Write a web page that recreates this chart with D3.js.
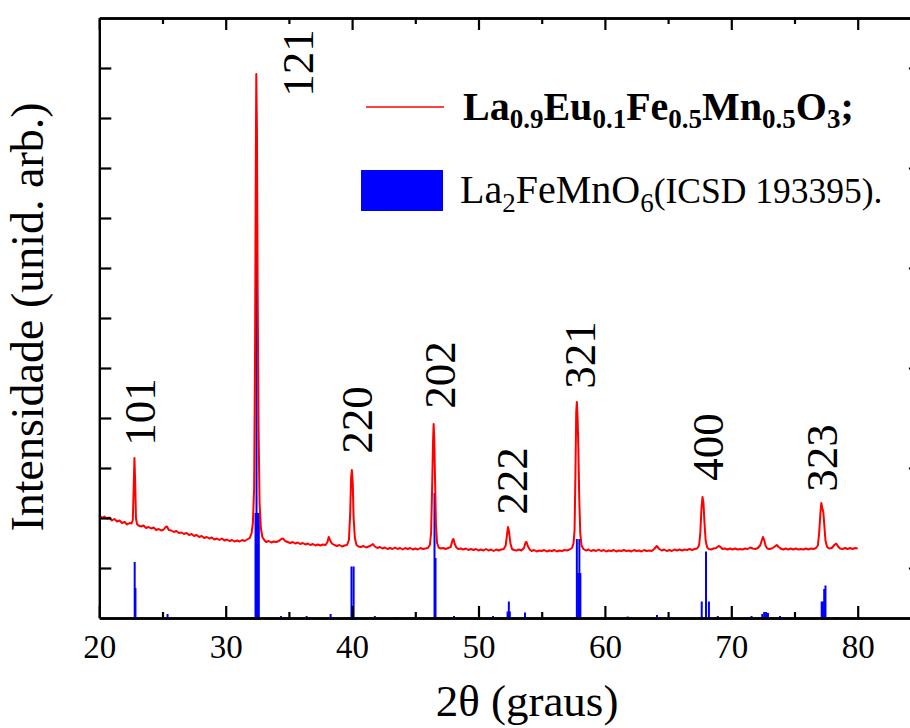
<!DOCTYPE html>
<html>
<head>
<meta charset="utf-8">
<script src="https://cdn.jsdelivr.net/npm/d3@7"></script>
<style>
  html, body { margin: 0; padding: 0; background: #fff; }
  svg { display: block; }
  text { font-family: "Liberation Serif", "Times New Roman", serif; }
</style>
</head>
<body>
<svg id="chart" width="910" height="728"></svg>
<script>
// ---------- data ----------
// Measured pattern La0.9Eu0.1Fe0.5Mn0.5O3 : [2theta, intensity a.u.]
const sampleScan = [
[20.0,2060],[20.2,2000],[20.4,2030],[20.6,1990],[20.8,2010],[21.0,1950],[21.2,1980],[21.4,1930],[21.6,1950],[21.8,1900],
[22.0,1920],[22.2,1870],[22.4,1900],[22.55,1890],[22.65,1960],[22.72,2600],[22.78,3200],[22.84,2700],[22.9,2000],[22.98,1880],
[23.1,1850],[23.3,1830],[23.5,1850],[23.7,1800],[23.9,1820],[24.1,1790],[24.3,1810],[24.5,1760],[24.7,1780],[24.9,1750],
[25.1,1770],[25.25,1820],[25.35,1830],[25.5,1760],[25.7,1750],[25.9,1720],[26.1,1740],[26.3,1700],[26.5,1710],[26.7,1680],
[26.9,1700],[27.1,1660],[27.3,1680],[27.5,1640],[27.7,1660],[27.9,1620],[28.1,1640],[28.3,1600],[28.5,1620],[28.7,1590],
[28.9,1610],[29.1,1570],[29.3,1590],[29.5,1560],[29.7,1590],[29.9,1550],[30.1,1570],[30.3,1540],[30.5,1560],[30.7,1530],
[30.9,1550],[31.1,1530],[31.3,1560],[31.5,1540],[31.7,1570],[31.9,1600],[32.05,1700],[32.15,1900],[32.25,2600],[32.32,5200],
[32.38,9000],[32.42,10880],[32.47,9800],[32.53,6500],[32.6,3800],[32.68,2300],[32.78,1800],[32.9,1620],[33.05,1560],[33.2,1520],
[33.4,1540],[33.6,1510],[33.8,1530],[34.0,1520],[34.2,1540],[34.4,1580],[34.55,1590],[34.7,1540],[34.9,1520],[35.1,1500],
[35.3,1520],[35.5,1490],[35.7,1510],[35.9,1480],[36.1,1500],[36.3,1470],[36.5,1490],[36.7,1460],[36.9,1480],[37.1,1450],
[37.3,1470],[37.5,1450],[37.7,1470],[37.9,1460],[38.05,1520],[38.15,1620],[38.25,1560],[38.4,1490],[38.6,1460],[38.8,1440],
[39.0,1460],[39.2,1430],[39.4,1450],[39.6,1460],[39.75,1560],[39.85,2100],[39.92,2800],[39.98,2960],[40.05,2700],[40.12,2000],
[40.22,1600],[40.35,1460],[40.5,1430],[40.7,1420],[40.9,1440],[41.1,1410],[41.3,1430],[41.5,1450],[41.65,1480],[41.8,1430],
[42.0,1400],[42.2,1420],[42.4,1390],[42.6,1410],[42.8,1380],[43.0,1400],[43.2,1380],[43.4,1410],[43.6,1380],[43.8,1400],
[44.0,1370],[44.2,1400],[44.4,1380],[44.6,1400],[44.8,1370],[45.0,1390],[45.2,1370],[45.4,1400],[45.6,1380],[45.8,1390],
[46.0,1400],[46.15,1460],[46.25,1700],[46.33,2600],[46.4,3500],[46.45,3880],[46.5,3600],[46.56,2800],[46.63,1900],[46.72,1500],
[46.85,1410],[47.0,1390],[47.2,1400],[47.4,1380],[47.6,1400],[47.8,1420],[47.95,1560],[48.02,1580],[48.12,1480],[48.25,1410],
[48.4,1380],[48.6,1390],[48.8,1370],[49.0,1390],[49.2,1360],[49.4,1380],[49.6,1360],[49.8,1380],[50.0,1350],[50.2,1370],
[50.4,1350],[50.6,1380],[50.8,1350],[51.0,1370],[51.2,1340],[51.4,1370],[51.6,1350],[51.8,1370],[52.0,1380],[52.15,1450],
[52.25,1650],[52.33,1820],[52.42,1720],[52.52,1500],[52.65,1380],[52.8,1360],[53.0,1350],[53.2,1370],[53.4,1350],[53.6,1400],
[53.72,1510],[53.8,1520],[53.9,1440],[54.05,1370],[54.2,1340],[54.4,1360],[54.6,1330],[54.8,1350],[55.0,1340],[55.2,1360],
[55.4,1330],[55.6,1350],[55.8,1340],[56.0,1360],[56.2,1330],[56.4,1350],[56.6,1340],[56.8,1360],[57.0,1350],[57.2,1370],
[57.4,1400],[57.52,1500],[57.6,1750],[57.67,2900],[57.73,4100],[57.78,4320],[57.84,4000],[57.9,3400],[57.97,2400],[58.05,1700],
[58.15,1450],[58.3,1380],[58.5,1350],[58.7,1370],[58.9,1340],[59.1,1360],[59.3,1340],[59.5,1370],[59.7,1340],[59.9,1360],
[60.1,1330],[60.3,1350],[60.5,1340],[60.7,1360],[60.9,1330],[61.1,1350],[61.3,1340],[61.5,1360],[61.7,1340],[61.9,1350],
[62.1,1330],[62.3,1360],[62.5,1340],[62.7,1350],[62.9,1330],[63.1,1360],[63.3,1340],[63.5,1350],[63.7,1340],[63.9,1380],
[64.1,1440],[64.3,1380],[64.5,1350],[64.7,1370],[64.9,1340],[65.1,1360],[65.3,1340],[65.5,1370],[65.7,1350],[65.9,1370],
[66.1,1350],[66.3,1370],[66.5,1360],[66.7,1380],[66.9,1360],[67.1,1380],[67.3,1390],[67.45,1450],[67.55,1700],[67.63,2150],
[67.72,2420],[67.8,2300],[67.88,1900],[67.97,1550],[68.08,1420],[68.2,1380],[68.4,1370],[68.6,1390],[68.8,1400],[69.0,1440],
[69.15,1420],[69.3,1380],[69.5,1390],[69.7,1370],[69.9,1390],[70.1,1370],[70.3,1390],[70.5,1370],[70.7,1380],[70.9,1370],
[71.1,1390],[71.3,1380],[71.5,1410],[71.7,1390],[71.9,1380],[72.1,1400],[72.3,1460],[72.42,1560],[72.5,1620],[72.6,1560],
[72.72,1440],[72.85,1390],[73.0,1380],[73.2,1390],[73.4,1420],[73.6,1460],[73.75,1420],[73.9,1390],[74.1,1370],[74.3,1390],
[74.5,1370],[74.7,1390],[74.9,1370],[75.1,1390],[75.3,1370],[75.5,1380],[75.7,1370],[75.9,1390],[76.1,1370],[76.3,1390],
[76.5,1380],[76.7,1400],[76.85,1450],[76.95,1700],[77.05,2100],[77.12,2300],[77.2,2200],[77.28,2120],[77.36,1850],[77.45,1550],
[77.58,1420],[77.75,1390],[77.95,1400],[78.15,1460],[78.3,1490],[78.45,1430],[78.6,1390],[78.8,1380],[79.0,1400],[79.2,1380],
[79.4,1400],[79.6,1380],[79.8,1400],[80.0,1390]
];

// Reference pattern La2FeMnO6 (ICSD 193395): stick positions and heights
const refTwoTheta = [22.80, 22.86, 25.40, 32.36, 32.44, 32.52, 32.62, 34.38, 36.40, 38.30,
                     39.95, 40.12, 41.80, 43.40, 46.52, 46.60, 48.06, 51.15, 52.30, 52.40,
                     52.48, 53.68, 57.78, 57.88, 57.98, 58.06, 61.80, 64.12, 67.66, 68.00,
                     68.23, 68.93, 71.60, 72.45, 72.60, 72.75, 72.90, 73.85, 77.15, 77.25,
                     77.35, 77.45, 78.30];
const refIntensity = [1120, 600, 80, 2100, 8120, 2100, 2100, 40, 40, 80,
                      1030, 1030, 40, 20, 2500, 1200, 40, 40, 130, 330,
                      130, 110, 1580, 900, 1580, 900, 30, 60, 330, 1330,
                      330, 40, 40, 80, 120, 120, 100, 40, 330, 330,
                      580, 650, 20];

// Miller index annotations: text and anchor (2theta, intensity)
const hklText = ["101", "121", "220", "202", "222", "321", "400", "323"];
const hklTwoTheta = [24.41, 36.91, 41.58, 48.14, 53.84, 59.22, 69.34, 78.36];
const hklLevel = [4120, 11100, 3960, 4860, 2740, 5260, 3420, 3200];

const xMajorTicks = [20, 30, 40, 50, 60, 70, 80];
const xMinorTicks = [25, 35, 45, 55, 65, 75, 85];
const yMajorTicks = [1000, 3000, 5000, 7000, 9000, 11000];
const yMinorTicks = [2000, 4000, 6000, 8000, 10000];

const xTitle = "2θ (graus)";
const yTitle = "Intensidade (unid. arb.)";

// ---------- layout ----------
const svg = d3.select("#chart");
const L = 99.3, R = 920.9, T = 18, B = 618;
const x = d3.scaleLinear().domain([20, 85]).range([L, R]);
const y = d3.scaleLinear().domain([0, 12000]).range([B, T]);

const RED = "#ff0000", BLUE = "#0000ff";

// reference sticks
svg.append("g").selectAll("line").data(refTwoTheta).join("line")
  .attr("x1", d => x(d)).attr("x2", d => x(d))
  .attr("y1", y(0)).attr("y2", (d, i) => y(refIntensity[i]))
  .attr("stroke", BLUE).attr("stroke-width", 2);

// measured curve
const line = d3.line().x(d => x(d[0])).y(d => y(d[1]));
svg.append("path").datum(sampleScan)
  .attr("d", line).attr("fill", "none")
  .attr("stroke", RED).attr("stroke-width", 2).attr("stroke-linejoin", "round");

// ---------- axes ----------
function styleAxis(g) {
  g.selectAll(".domain").attr("stroke", "#000").attr("stroke-width", 2.4);
  g.selectAll(".tick line").attr("stroke", "#000").attr("stroke-width", 2.2);
  g.selectAll(".tick text").attr("fill", "#000")
    .style("font-family", "'Liberation Serif', 'Times New Roman', serif");
}

// bottom
svg.append("g").attr("transform", `translate(0,${B})`)
  .call(d3.axisBottom(x).tickValues(xMajorTicks).tickSizeInner(-12).tickSizeOuter(0)
        .tickPadding(17).tickFormat(d3.format("d")))
  .call(styleAxis)
  .call(g => g.selectAll(".tick text").attr("font-size", 33).attr("dy", "0.71em"));
svg.append("g").attr("transform", `translate(0,${B})`)
  .call(d3.axisBottom(x).tickValues(xMinorTicks).tickSizeInner(-6).tickSizeOuter(0).tickFormat(""))
  .call(styleAxis);
// top
svg.append("g").attr("transform", `translate(0,${T})`)
  .call(d3.axisTop(x).tickValues(xMajorTicks).tickSizeInner(-12).tickSizeOuter(0).tickFormat(""))
  .call(styleAxis);
svg.append("g").attr("transform", `translate(0,${T})`)
  .call(d3.axisTop(x).tickValues(xMinorTicks).tickSizeInner(-6).tickSizeOuter(0).tickFormat(""))
  .call(styleAxis);
// left
svg.append("g").attr("transform", `translate(${L},0)`)
  .call(d3.axisLeft(y).tickValues(yMajorTicks.concat(yMinorTicks)).tickSizeInner(-12).tickSizeOuter(0).tickFormat(""))
  .call(styleAxis);
// right
svg.append("g").attr("transform", `translate(${R},0)`)
  .call(d3.axisRight(y).tickValues(yMajorTicks).tickSizeInner(-12).tickSizeOuter(0).tickFormat(""))
  .call(styleAxis);
svg.append("g").attr("transform", `translate(${R},0)`)
  .call(d3.axisRight(y).tickValues(yMinorTicks).tickSizeInner(-6).tickSizeOuter(0).tickFormat(""))
  .call(styleAxis);

// axis titles
svg.append("text").attr("x", 527).attr("y", 716).attr("text-anchor", "middle")
  .attr("font-size", 45).attr("fill", "#000").text(xTitle);
svg.append("text").attr("transform", "translate(43,317) rotate(-90)")
  .attr("text-anchor", "middle").attr("font-size", 46).attr("fill", "#000").text(yTitle);

// hkl labels
svg.append("g").selectAll("text").data(hklText).join("text")
  .attr("transform", (d, i) => `translate(${x(hklTwoTheta[i])},${y(hklLevel[i])}) rotate(-90)`)
  .attr("text-anchor", "middle").attr("font-size", 45).attr("fill", "#000")
  .text(d => d);

// ---------- legend ----------
const leg = svg.append("g");
leg.append("line").attr("x1", 366).attr("x2", 444).attr("y1", 107).attr("y2", 107)
  .attr("stroke", RED).attr("stroke-width", 1.6);
const t1 = leg.append("text").attr("x", 463).attr("y", 120)
  .attr("font-size", 40).attr("font-weight", "bold").attr("fill", "#000");
const parts1 = [["La", false], ["0.9", true], ["Eu", false], ["0.1", true], ["Fe", false], ["0.5", true],
                ["Mn", false], ["0.5", true], ["O", false], ["3", true], [";", false]];
let sub = false;
parts1.forEach(([s, isSub]) => {
  const ts = t1.append("tspan").text(s);
  if (isSub) { ts.attr("font-size", 27).attr("dy", sub ? 0 : 8); sub = true; }
  else { ts.attr("dy", sub ? -8 : 0); sub = false; }
});

leg.append("rect").attr("x", 361).attr("y", 170).attr("width", 82).attr("height", 41).attr("fill", BLUE);
const t2 = leg.append("text").attr("x", 460).attr("y", 203).attr("font-size", 40).attr("fill", "#000");
const parts2 = [["La", 0], ["2", 1], ["FeMnO", 0], ["6", 1], ["(ICSD 193395).", 2]];
sub = false;
parts2.forEach(([s, kind]) => {
  const ts = t2.append("tspan").text(s);
  if (kind === 1) { ts.attr("font-size", 27).attr("dy", sub ? 0 : 9); sub = true; }
  else { ts.attr("dy", sub ? -9 : 0); sub = false; if (kind === 2) ts.attr("font-size", 35.5); }
});
</script>
</body>
</html>
